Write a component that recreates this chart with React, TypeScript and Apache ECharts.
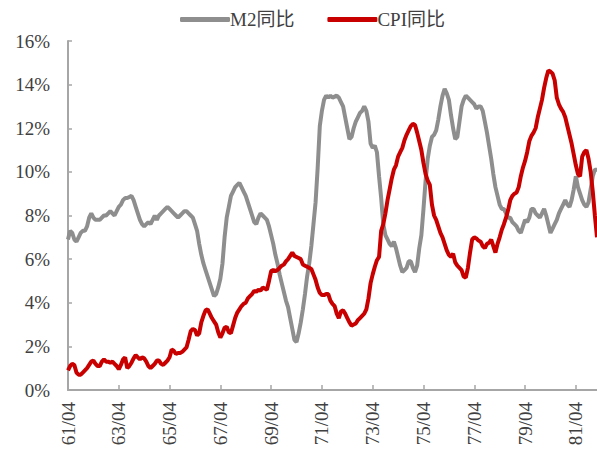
import React, { useEffect, useRef } from "react";
import * as echarts from "echarts";

// Monthly categories from 1961/04 to 1982/02
const startYear = 61;
const startMonth = 4;
const monthCount = 251;
const months: string[] = [];
for (let i = 0; i < monthCount; i++) {
  const t = startMonth - 1 + i;
  const y = startYear + Math.floor(t / 12);
  const m = (t % 12) + 1;
  months.push(`${y}/${m < 10 ? "0" + m : m}`);
}

const yTicks = [0, 2, 4, 6, 8, 10, 12, 14, 16];

// M2 YoY (%)
const m2 = [
  6.9, 7.3, 7.2, 6.9, 6.8, 7.0, 7.2, 7.3, 7.3, 7.5, 7.9, 8.1,
  7.9, 7.8, 7.8, 7.8, 7.9, 8.0, 8.0, 8.1, 8.2, 8.1, 8.0, 8.2,
  8.4, 8.5, 8.7, 8.8, 8.8, 8.85, 8.9, 8.7, 8.4, 8.1, 7.8, 7.6,
  7.5, 7.6, 7.7, 7.6, 7.8, 8.0, 7.8, 8.0, 8.1, 8.2, 8.3, 8.4,
  8.3, 8.2, 8.1, 8.0, 7.9, 8.0, 8.1, 8.2, 8.2, 8.1, 8.0, 7.9,
  7.6, 7.3, 6.7, 6.2, 5.8, 5.5, 5.2, 4.9, 4.6, 4.3, 4.4, 4.7,
  5.1, 5.8, 7.0, 7.9, 8.4, 8.9, 9.1, 9.3, 9.4, 9.5, 9.3, 9.1,
  8.9, 8.6, 8.3, 8.0, 7.7, 7.6, 7.9, 8.1, 8.0, 7.9, 7.8, 7.5,
  7.1, 6.7, 6.2, 5.8, 5.3, 4.9, 4.5, 4.1, 3.8, 3.3, 2.8, 2.3,
  2.2, 2.6, 3.1, 3.7, 4.4, 5.2, 5.8, 6.6, 7.6, 8.6, 10.2, 12.1,
  12.8, 13.3, 13.5, 13.4, 13.5, 13.4, 13.45, 13.5, 13.4, 13.2, 13.0, 12.5,
  12.0, 11.5, 11.6, 12.0, 12.3, 12.5, 12.7, 12.8, 13.0, 12.8, 12.3, 11.3,
  11.1, 11.2, 10.9, 9.8, 8.8, 7.6, 7.1, 6.9, 6.7, 6.6, 6.8, 6.5,
  6.1, 5.7, 5.4, 5.5, 5.6, 5.9, 5.9, 5.6, 5.4, 5.7, 6.5, 7.1,
  8.3, 9.6, 10.6, 11.2, 11.6, 11.7, 11.9, 12.4, 13.0, 13.5, 13.8, 13.6,
  13.3, 12.6, 12.0, 11.5, 11.6, 12.3, 13.0, 13.3, 13.5, 13.4, 13.3, 13.2,
  13.1, 12.9, 13.0, 13.0, 12.8, 12.3, 11.8, 11.2, 10.6, 9.9, 9.3, 8.9,
  8.5, 8.3, 8.3, 8.1, 7.9, 7.9, 7.7, 7.6, 7.5, 7.3, 7.2, 7.5,
  7.8, 7.7, 7.9, 8.3, 8.3, 8.1, 8.0, 7.9, 8.1, 8.3, 8.0, 7.6,
  7.2, 7.4, 7.6, 7.8, 8.1, 8.3, 8.5, 8.7, 8.5, 8.4, 8.7, 9.2,
  9.8, 9.3, 9.0, 8.7, 8.5, 8.4, 8.6, 9.2, 9.8, 10.1, 10.1,
];

// CPI YoY (%)
const cpi = [
  0.9, 1.1, 1.2, 1.15, 0.8, 0.7, 0.7, 0.8, 0.9, 1.0, 1.15, 1.3,
  1.35, 1.2, 1.1, 1.1, 1.3, 1.4, 1.3, 1.3, 1.25, 1.3, 1.2, 1.1,
  0.95, 1.15, 1.4, 1.5, 1.0, 1.1, 1.25, 1.45, 1.6, 1.5, 1.4, 1.5,
  1.45, 1.3, 1.1, 1.0, 1.1, 1.2, 1.35, 1.35, 1.2, 1.15, 1.25, 1.35,
  1.5, 1.85, 1.8, 1.65, 1.7, 1.7, 1.75, 1.85, 1.95, 2.3, 2.7, 2.8,
  2.75, 2.5, 2.6, 3.1, 3.4, 3.65, 3.7, 3.5, 3.3, 3.15, 3.0, 2.65,
  2.4, 2.6, 2.85, 2.9, 2.65, 2.6, 2.95, 3.3, 3.55, 3.7, 3.85, 3.95,
  4.0, 4.2, 4.3, 4.4, 4.55, 4.5, 4.6, 4.55, 4.7, 4.65, 4.6, 5.0,
  5.45, 5.5, 5.45, 5.5, 5.6, 5.7, 5.75, 5.9, 6.0, 6.15, 6.3, 6.15,
  6.1, 6.05, 6.0, 5.75, 5.7, 5.65, 5.6, 5.55, 5.3, 5.05, 4.7, 4.45,
  4.35, 4.35, 4.4, 4.4, 4.1, 3.95, 3.85, 3.5, 3.3, 3.6, 3.65, 3.5,
  3.3, 3.1, 2.95, 3.0, 3.05, 3.2, 3.3, 3.4, 3.5, 3.7, 4.2, 4.9,
  5.3, 5.65, 5.95, 6.1, 7.3, 7.6, 8.1, 8.7, 9.2, 9.7, 10.1, 10.3,
  10.7, 10.9, 11.1, 11.45, 11.7, 11.9, 12.1, 12.2, 12.15, 11.8, 11.4, 11.0,
  10.4, 9.9, 9.6, 9.4, 8.5, 8.0, 7.8, 7.5, 7.2, 7.0, 6.7, 6.4,
  6.2, 6.1, 6.25, 5.85, 5.7, 5.6, 5.5, 5.2, 5.15, 5.6, 6.3, 6.9,
  7.0, 6.95, 6.85, 6.8, 6.6, 6.5, 6.7, 6.75, 6.9, 6.6, 6.3, 6.7,
  7.0, 7.35, 7.6, 7.9, 8.25, 8.7, 8.9, 9.0, 9.05, 9.3, 9.8, 10.2,
  10.5, 10.9, 11.4, 11.65, 11.8, 12.0, 12.5, 12.9, 13.3, 13.85, 14.3, 14.65,
  14.6, 14.5, 14.2, 13.4, 13.1, 12.9, 12.75, 12.5, 12.1, 11.7, 11.3, 10.8,
  10.3, 9.9, 9.8, 10.7, 10.9, 11.0, 10.6, 10.0, 9.1, 8.0, 7.0,
];

const seriesNames = ["M2同比", "CPI同比"];
const colors = ["#8e8e8e", "#c80000"];

const FONT = "'Times New Roman', 'Liberation Serif', 'Noto Sans CJK SC', serif";

export default function App() {
  const ref = useRef<HTMLDivElement>(null);
  useEffect(() => {
    if (!ref.current) return;
    const chart = echarts.init(ref.current, undefined, { renderer: "svg" });
    chart.setOption({
      animation: false,
      backgroundColor: "#ffffff",
      legend: {
        left: 180,
        top: 10,
        padding: 0,
        itemWidth: 50,
        itemHeight: 5,
        itemGap: 33,
        icon: "roundRect",
        textStyle: {
          fontFamily: FONT,
          fontSize: 19,
          color: "#404040",
          padding: [0, 0, 0, -5],
        },
        data: seriesNames,
      },
      grid: { left: 68, right: 0, top: 41, bottom: 64, containLabel: false },
      xAxis: {
        type: "category",
        data: months,
        boundaryGap: false,
        axisLine: { lineStyle: { color: "#a6a6a6", width: 2 } },
        axisTick: { inside: true, length: 5, interval: 23, lineStyle: { color: "#a6a6a6", width: 1.5 } },
        axisLabel: {
          interval: 23,
          rotate: 90,
          margin: 12,
          fontFamily: FONT,
          fontSize: 19,
          color: "#404040",
        },
        splitLine: { show: false },
      },
      yAxis: {
        type: "value",
        min: yTicks[0],
        max: yTicks[yTicks.length - 1],
        interval: 2,
        axisLine: { show: true, lineStyle: { color: "#a6a6a6", width: 2 } },
        axisTick: { show: true, inside: true, length: 4, lineStyle: { color: "#a6a6a6", width: 1.5 } },
        axisLabel: {
          formatter: "{value}%",
          margin: 18,
          fontFamily: FONT,
          fontSize: 19,
          color: "#404040",
        },
        splitLine: { show: false },
      },
      series: [
        {
          name: seriesNames[0],
          type: "line",
          data: m2,
          showSymbol: false,
          symbol: "none",
          lineStyle: { color: colors[0], width: 4 },
          itemStyle: { color: colors[0] },
        },
        {
          name: seriesNames[1],
          type: "line",
          data: cpi,
          showSymbol: false,
          symbol: "none",
          lineStyle: { color: colors[1], width: 4 },
          itemStyle: { color: colors[1] },
        },
      ],
    });
    return () => chart.dispose();
  }, []);
  return (
    <div
      ref={ref}
      style={{ position: "fixed", left: 0, top: 0, width: 597, height: 454, background: "#fff" }}
    />
  );
}
